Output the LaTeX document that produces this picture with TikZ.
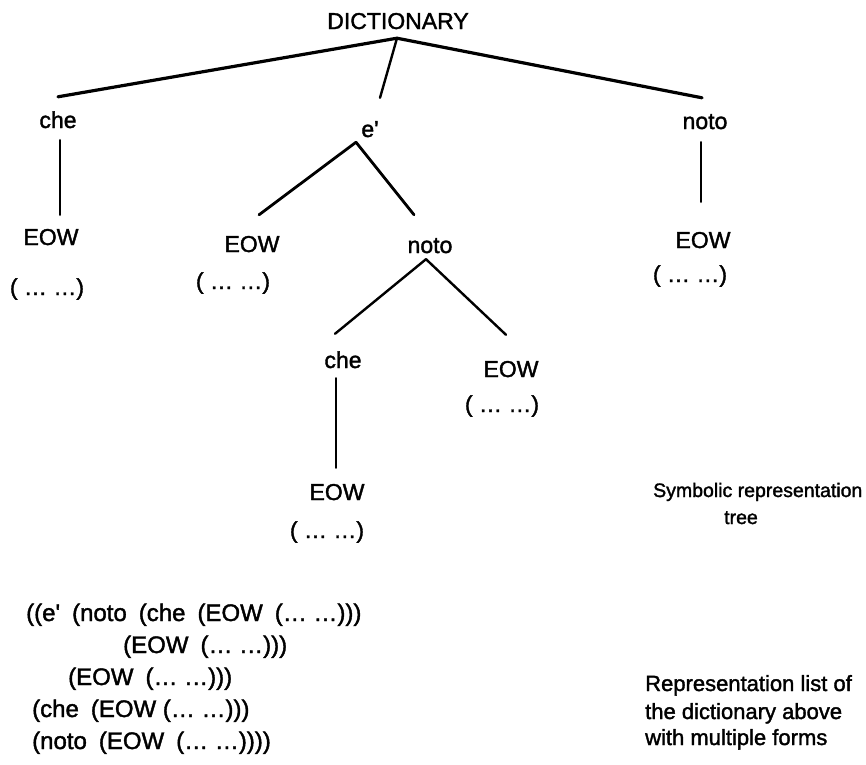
\documentclass[tikz,border=0pt]{standalone}
\usepackage{fontspec}
\setmainfont{Liberation Sans}[FakeBold=1.6,Ligatures=TeXOff]
\begin{document}
\begin{tikzpicture}[x=1pt,y=-1pt,
  lbl/.style={inner sep=0pt,text height=17pt,text depth=5pt,anchor=base,
    font=\fontsize{23}{28}\selectfont},
  lisp/.style={inner sep=0pt,anchor=base west,font=\fontsize{24}{28}\selectfont},
  capt/.style={inner sep=0pt,anchor=base west,font=\fontsize{22}{26}\selectfont},
  edge/.style={line width=#1,line cap=round},
  edge/.default=2.6pt]
\useasboundingbox (0,0) rectangle (866,764);

% tree labels (x = centre, y = baseline)
\node[lbl] (dict)  at (398,29)  {DICTIONARY};
\node[lbl] (che1)  at (58,128)  {che};
\node[lbl] (e)     at (370,137) {e'};
\node[lbl] (noto1) at (705,129) {noto};
\node[lbl] (eow1)  at (51,245)  {EOW};
\node[lbl] (eow2)  at (252,252) {EOW};
\node[lbl] (noto2) at (430,253) {noto};
\node[lbl] (eow3)  at (703,248) {EOW};
\node[lbl] (par1)  at (47,295)  {( … …)};
\node[lbl] (par2)  at (233,289) {( … …)};
\node[lbl] (par3)  at (690,282) {( … …)};
\node[lbl] (che2)  at (343,368) {che};
\node[lbl] (eow4)  at (511,377) {EOW};
\node[lbl] (par4)  at (502,412) {( … …)};
\node[lbl] (eow5)  at (337,500) {EOW};
\node[lbl] (par5)  at (327,538) {( … …)};

% branching points
\coordinate (apex)  at ([shift={(-1,4)}]dict.south);
\coordinate (eapex) at ([shift={(-14,0)}]e.south);
\coordinate (napex) at ([shift={(-4,1)}]noto2.south);

% connectors
\draw[edge=3.2pt] (apex) -- ([shift={(0,-14)}]che1.north);
\draw[edge=2.4pt] (apex) -- ([shift={(10,-22)}]e.north);
\draw[edge=3.2pt] (apex) -- ([shift={(-3,-14)}]noto1.north);
\draw[edge=2.6pt] ([shift={(2,7)}]che1.south) -- ([shift={(9,-13)}]eow1.north);
\draw[edge=2.8pt] (eapex) -- ([shift={(7,-20)}]eow2.north);
\draw[edge=2.8pt] (eapex) -- ([shift={(-16,-21)}]noto2.north);
\draw[edge=2.6pt] ([shift={(-4,8)}]noto1.south) -- ([shift={(-2,-29)}]eow3.north);
\draw[edge=2.4pt] (napex) -- ([shift={(-8,-17)}]che2.north);
\draw[edge=2.4pt] (napex) -- ([shift={(-5,-25)}]eow4.north);
\draw[edge=2.0pt] ([shift={(-7,5)}]che2.south) -- ([shift={(-1,-15)}]eow5.north);

% captions
\node[capt,font=\fontsize{19.5}{24}\selectfont] (symcap) at (653,497) {Symbolic representation};
\node[capt,font=\fontsize{19.5}{24}\selectfont] (symtree) at (724,524) {tree};

% list form
\node[lisp] (l1) at (26,621) {((e'\hspace{12pt}(noto\hspace{12pt}(che\hspace{12pt}(EOW\hspace{12pt}(… …)))};
\node[lisp] (l2) at (123,653) {(EOW\hspace{12pt}(… …)))};
\node[lisp] (l3) at (68,685)  {(EOW\hspace{12pt}(… …)))};
\node[lisp] (l4) at (32,717)  {(che\hspace{12pt}(EOW (… …)))};
\node[lisp] (l5) at (32,749)  {(noto\hspace{12pt}(EOW\hspace{12pt}(… …))))};

\node[capt] (rc1) at (645,691) {Representation list of};
\node[capt] (rc2) at (645,719) {the dictionary above};
\node[capt] (rc3) at (645,745) {with multiple forms};
\end{tikzpicture}
\end{document}
